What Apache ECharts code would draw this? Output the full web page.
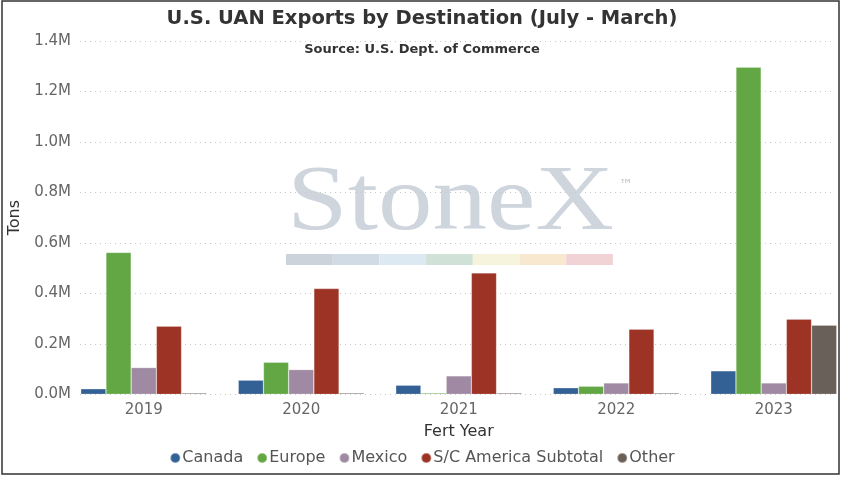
<!DOCTYPE html>
<html>
<head>
<meta charset="utf-8">
<script src="https://cdn.jsdelivr.net/npm/echarts@6/dist/echarts.min.js"></script>
<style>html,body{margin:0;padding:0;background:#fff;}#c{width:844px;height:480px;}</style>
</head>
<body>
<div id="c"></div>
<script>
var categories = ['2019', '2020', '2021', '2022', '2023'];
var canada = [22000, 56000, 36000, 26000, 93000];
var europe = [562000, 127000, 5000, 32000, 1296000];
var mexico = [106000, 98000, 73000, 45000, 45000];
var scAmerica = [270000, 419000, 481000, 258000, 298000];
var other = [5000, 5000, 5000, 5000, 274000];
var seriesNames = ['Canada', 'Europe', 'Mexico', 'S/C America Subtotal', 'Other'];
var seriesColors = ['#336195', '#62a744', '#a08aa3', '#9c3324', '#6a605a'];
var seriesData = [canada, europe, mexico, scAmerica, other];
var yMax = 1400000, yInterval = 200000;

var stripColors = ['#cdd3db', '#d0dbe6', '#dde9f2', '#d0e1d8', '#f6f4dc', '#f8e8d0', '#f1d3d6'];
var graphics = [];
graphics.push({type:'text', x:287, y:157, scaleX:1.16, z:-10, silent:true,
  style:{text:'StoneX', font:'94px "Liberation Serif"', fill:'#cfd5dd', verticalAlign:'top', align:'left'}});
graphics.push({type:'text', x:619, y:178, z:-10, silent:true,
  style:{text:'™', font:'14px "DejaVu Sans"', fill:'#bcc3cc', verticalAlign:'top'}});
stripColors.forEach(function(c, i){
  graphics.push({type:'rect', z:-10, silent:true, shape:{x:286 + i*46.7, y:254, width:46.7, height:11}, style:{fill:c}});
});
graphics.push({type:'rect', z:100, silent:true, shape:{x:2, y:1, width:837, height:473}, style:{fill:'none', stroke:'#333', lineWidth:1.5}});

var series = seriesNames.map(function(n, i){
  return {name:n, type:'bar', data:seriesData[i], barGap:'0%', barCategoryGap:'20%',
    itemStyle:{color:seriesColors[i], borderColor:'rgba(255,255,255,0.35)', borderWidth:0.6}};
});

var chart = echarts.init(document.getElementById('c'), null, {renderer:'canvas'});
chart.setOption({
  animation:false,
  backgroundColor:'#fff',
  title:[
    {text:'U.S. UAN Exports by Destination (July - March)', left:'center', top:4,
     textStyle:{fontFamily:'DejaVu Sans', fontWeight:'bold', fontSize:19.5, color:'#333'}},
    {text:'Source: U.S. Dept. of Commerce', left:'center', top:38,
     textStyle:{fontFamily:'DejaVu Sans', fontWeight:'bold', fontSize:13, color:'#333'}}
  ],
  legend:{bottom:9, left:'center', icon:'circle', itemWidth:10, itemHeight:10, itemGap:13,
    textStyle:{fontFamily:'DejaVu Sans', fontSize:16, color:'#555', padding:[0,0,0,-3]}},
  grid:[
    {left:65, width:787.5, top:41, bottom:85.7, outerBoundsMode:'none', containLabel:false},
    {left:80, right:9, top:41, bottom:85.7, outerBoundsMode:'none', containLabel:false}
  ],
  xAxis:[
    {type:'category', data:categories, gridIndex:0,
     axisLine:{show:false}, axisTick:{show:false},
     axisLabel:{fontFamily:'DejaVu Sans', fontSize:15, color:'#666', margin:8},
     name:'Fert Year', nameLocation:'middle', nameGap:30,
     nameTextStyle:{fontFamily:'DejaVu Sans', fontSize:16, color:'#333'}},
    {type:'category', data:categories, gridIndex:1, show:false}
  ],
  yAxis:[
    {type:'value', gridIndex:0, min:0, max:yMax, interval:yInterval,
     splitLine:{show:false}, axisLine:{show:false}, axisTick:{show:false},
     axisLabel:{fontFamily:'DejaVu Sans', fontSize:15, color:'#666', margin:-6,
       formatter:function(v){return (v/1e6).toFixed(1)+'M';}},
     name:'Tons', nameLocation:'middle', nameGap:42, nameRotate:90,
     nameTextStyle:{fontFamily:'DejaVu Sans', fontSize:16, color:'#333'}},
    {type:'value', gridIndex:1, min:0, max:yMax, interval:yInterval,
     axisLine:{show:false}, axisTick:{show:false}, axisLabel:{show:false},
     splitLine:{show:true, lineStyle:{color:'#c8c8c8', type:[1,4], width:1}}}
  ],
  graphic:graphics,
  series:series
});
</script>
</body>
</html>
